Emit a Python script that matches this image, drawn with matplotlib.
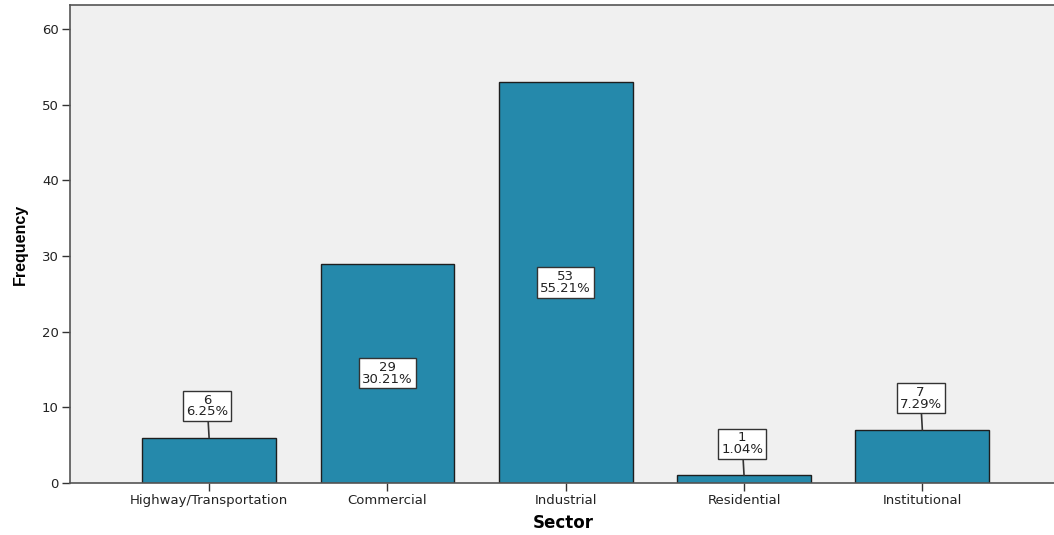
import matplotlib
matplotlib.use("Agg")
import matplotlib.pyplot as plt
import numpy as np

sectors = ["Highway/Transportation", "Commercial", "Industrial",
           "Residential", "Institutional"]
counts = [6, 29, 53, 1, 7]
percents = [6.25, 30.21, 55.21, 1.04, 7.29]

plt.rcParams["font.family"] = ["DejaVu Sans"]

fig = plt.figure(figsize=(10.54, 5.35), dpi=100)
ax = fig.add_axes([70 / 1054, 1 - 483 / 535, 1 - 70 / 1054 + 0.002, 478 / 535])
ax.set_facecolor("#F0F0F0")

x = np.arange(len(sectors))
ax.bar(x, counts, width=0.75, color="#2589AB", edgecolor="#1e1e1e",
       linewidth=1.0, zorder=2)

box = dict(boxstyle="square,pad=0.22", facecolor="white",
           edgecolor="#333333", linewidth=1.0)
for xi, c, p in zip(x, counts, percents):
    text = f"{c}\n{p:.2f}%"
    if c > 20:
        ax.text(xi, c / 2, text, ha="center", va="center", fontsize=9.5,
                linespacing=0.85, bbox=box, zorder=4, color="#222222")
    else:
        ax.annotate(text, xy=(xi, c), xytext=(xi - 0.01, c + 4.2),
                    ha="center", va="center", fontsize=9.5, linespacing=0.85,
                    bbox=box, zorder=4, color="#222222",
                    arrowprops=dict(arrowstyle="-", color="#333333",
                                    linewidth=1.2, shrinkA=0, shrinkB=0))

ax.set_xlim(-0.78, 4.75)
ax.set_ylim(0, 63.2)
ax.set_yticks(range(0, 61, 10))
ax.set_xticks(x)
ax.set_xticklabels(sectors, fontsize=9.5)
ax.tick_params(axis="y", labelsize=9.5, length=6, width=1.0, color="#333333",
               labelcolor="#222222", pad=2)
ax.tick_params(axis="x", length=6, width=1.0, color="#333333",
               labelcolor="#222222", pad=2)

for side in ["left", "bottom", "top", "right"]:
    ax.spines[side].set_color("#555555")
    ax.spines[side].set_linewidth(1.2)

ax.set_xlabel("Sector", fontsize=12, fontweight="bold", labelpad=5)
ax.set_ylabel("Frequency", fontsize=11.5, fontweight="bold", labelpad=10,
              family=["Liberation Sans Narrow", "Liberation Sans"])

fig.savefig("out.png", dpi=100)
